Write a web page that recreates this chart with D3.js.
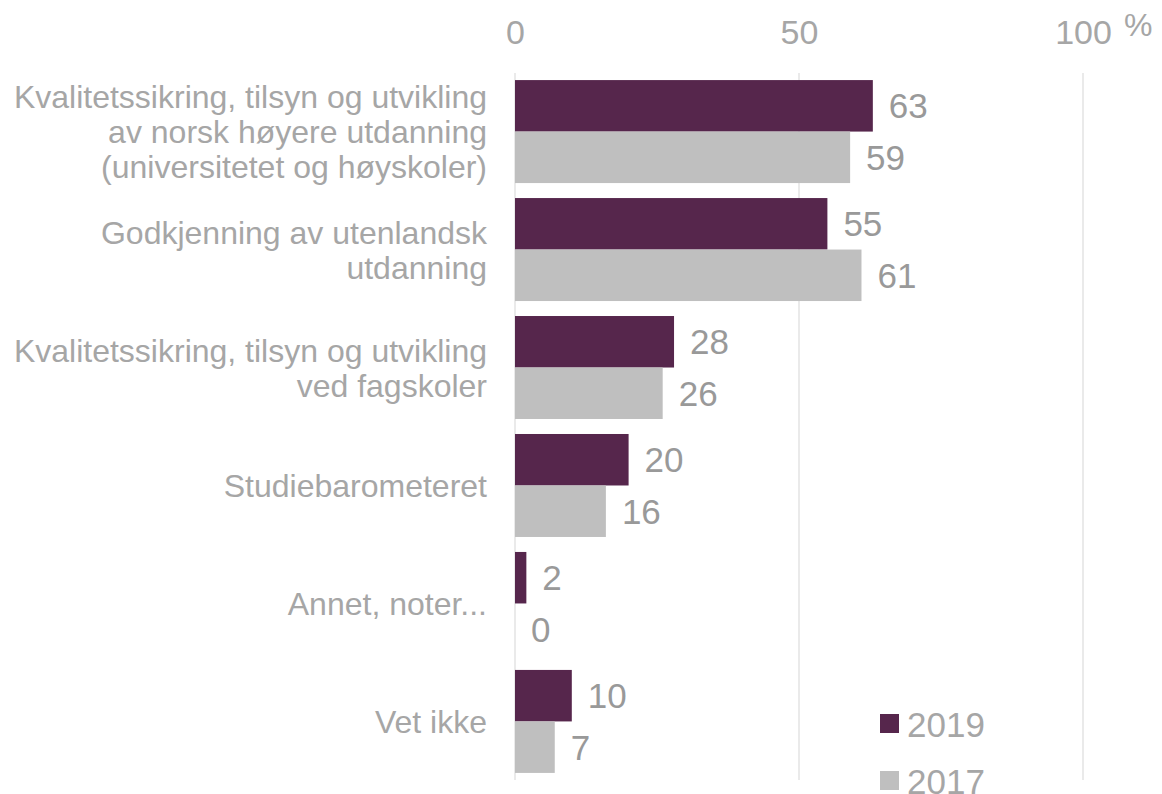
<!DOCTYPE html>
<html>
<head>
<meta charset="utf-8">
<script src="https://cdn.jsdelivr.net/npm/d3@7"></script>
<style>
	body { margin: 0; background: #fff; }
	svg { font-family: "Liberation Sans", Arial, sans-serif; }
</style>
</head>
<body>
<div class="bar-chart"></div>
<script>
	var CATEGORIES = [
		["Kvalitetssikring, tilsyn og utvikling", "av norsk høyere utdanning", "(universitetet og høyskoler)"],
		["Godkjenning av utenlandsk", "utdanning"],
		["Kvalitetssikring, tilsyn og utvikling", "ved fagskoler"],
		["Studiebarometeret"],
		["Annet, noter..."],
		["Vet ikke"]
	];
	var SERIES = ["2019", "2017"];
	var VALUES_2019 = [63, 55, 28, 20, 2, 10];
	var VALUES_2017 = [59, 61, 26, 16, 0, 7];
	var X_TICKS = [0, 50, 100];

	var COLORS = { "2019" : "#56264c", "2017" : "#bfbfbf" };

	var width = 1162, height = 794;

	var svg = d3.select(".bar-chart").append("svg")
		.attr("width", width)
		.attr("height", height);

	var data = CATEGORIES.map(function ( c, i ) {
		return { key : i, lines : c, "2019" : VALUES_2019[i], "2017" : VALUES_2017[i] };
	});

	var x = d3.scaleLinear().domain([0, 100]).range([515, 1083]);

	var y0 = d3.scaleBand()
		.domain(data.map(function ( d ) { return d.key; }))
		.range([73, 780])
		.paddingInner(0.127)
		.paddingOuter(0.06);

	var y1 = d3.scaleBand()
		.domain(SERIES)
		.range([0, y0.bandwidth()]);

	// gridlines
	svg.append("g")
		.selectAll("line")
		.data(X_TICKS)
		.enter()
		.append("line")
		.attr("x1", function ( d ) { return x(d); })
		.attr("x2", function ( d ) { return x(d); })
		.attr("y1", 73)
		.attr("y2", 780)
		.attr("stroke", "#e3e3e3")
		.attr("stroke-width", 1.5);

	// top axis
	var xAxis = svg.append("g")
		.attr("transform", "translate(0,44)")
		.call(d3.axisTop(x).tickValues(X_TICKS).tickSize(0).tickPadding(0));
	xAxis.select(".domain").remove();
	xAxis.selectAll("text")
		.attr("font-size", 34)
		.attr("font-family", "Liberation Sans, Arial, sans-serif")
		.attr("fill", "#a6a6a6")
		.attr("dy", 0);

	svg.append("text")
		.attr("x", 1124)
		.attr("y", 36)
		.attr("font-size", 32)
		.attr("fill", "#a6a6a6")
		.text("%");

	// bars
	var groups = svg.append("g")
		.selectAll("g")
		.data(data)
		.enter()
		.append("g")
		.attr("transform", function ( d ) { return "translate(0," + y0(d.key) + ")"; });

	groups.selectAll("rect")
		.data(function ( d ) { return SERIES.map(function ( s ) { return { s : s, v : d[s] }; }); })
		.enter()
		.append("rect")
		.attr("x", x(0))
		.attr("y", function ( d ) { return y1(d.s); })
		.attr("width", function ( d ) { return x(d.v) - x(0); })
		.attr("height", y1.bandwidth())
		.attr("fill", function ( d ) { return COLORS[d.s]; });

	groups.selectAll("text.value")
		.data(function ( d ) { return SERIES.map(function ( s ) { return { s : s, v : d[s] }; }); })
		.enter()
		.append("text")
		.attr("class", "value")
		.attr("x", function ( d ) { return x(d.v) + 16; })
		.attr("y", function ( d ) { return y1(d.s) + y1.bandwidth() / 2; })
		.attr("dy", "0.36em")
		.attr("font-size", 35)
		.attr("fill", "#999999")
		.text(function ( d ) { return d.v; });

	// category labels
	var lineH = 35;
	groups.append("text")
		.attr("text-anchor", "end")
		.attr("font-size", 32)
		.attr("fill", "#a6a6a6")
		.each(function ( d ) {
			var t = d3.select(this);
			var n = d.lines.length;
			var mid = y0.bandwidth() / 2;
			d.lines.forEach(function ( line, j ) {
				t.append("tspan")
					.attr("x", 487)
					.attr("y", mid + (j - (n - 1) / 2) * lineH)
					.attr("dy", "0.36em")
					.text(line);
			});
		});

	// legend
	var legend = svg.append("g")
		.selectAll("g")
		.data(SERIES)
		.enter()
		.append("g")
		.attr("transform", function ( d, i ) { return "translate(880," + (714 + i * 57) + ")"; });

	legend.append("rect")
		.attr("width", 19)
		.attr("height", 19)
		.attr("fill", function ( d ) { return COLORS[d]; });

	legend.append("text")
		.attr("x", 27)
		.attr("y", 10)
		.attr("dy", "0.36em")
		.attr("font-size", 35)
		.attr("fill", "#a6a6a6")
		.text(function ( d ) { return d; });
</script>
</body>
</html>
